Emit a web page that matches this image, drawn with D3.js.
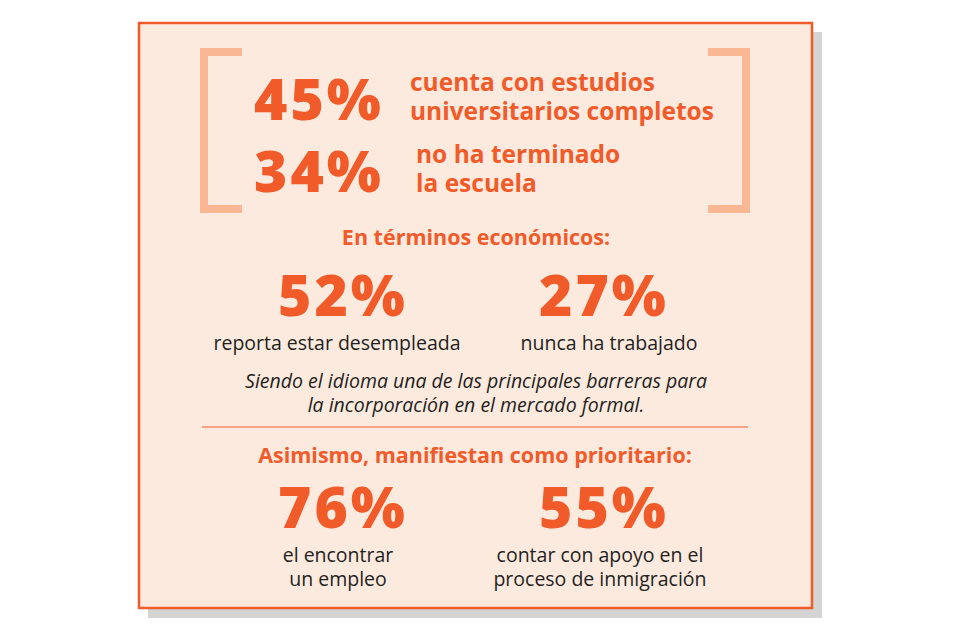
<!DOCTYPE html>
<html><head><meta charset="utf-8">
<script src="https://cdn.jsdelivr.net/npm/d3@7"></script>
<style>body{margin:0;background:#fff}svg{display:block}</style>
</head><body>
<svg id="c" width="960" height="640"></svg>
<script>
// education block
const eduValues = ["45%", "34%"];
const eduLabels = [["cuenta con estudios", "universitarios completos"], ["no ha terminado", "la escuela"]];
// economic block
const econTitle = "En términos económicos:";
const econValues = ["52%", "27%"];
const econLabels = [["reporta estar desempleada"], ["nunca ha trabajado"]];
const econNote = ["Siendo el idioma una de las principales barreras para", "la incorporación en el mercado formal."];
// priorities block
const prioTitle = "Asimismo, manifiestan como prioritario:";
const prioValues = ["76%", "55%"];
const prioLabels = [["el encontrar", "un empleo"], ["contar con apoyo en el", "proceso de inmigración"]];

const orange = "#f15a29", peach = "#fdeadf", bracket = "#f9b793", ink = "#231f20";
const font = "'Open Sans', 'Noto Sans', sans-serif";
const svg = d3.select("#c");

svg.append("rect").attr("x", 148).attr("y", 32).attr("width", 674).attr("height", 586).attr("fill", "#d4d4d4");
svg.append("rect").attr("x", 139).attr("y", 23).attr("width", 673).attr("height", 585)
  .attr("fill", peach).attr("stroke", orange).attr("stroke-width", 2.5);

// brackets
const br = [{x: 204, d: 1}, {x: 746, d: -1}];
br.forEach(b => {
  svg.append("path")
    .attr("d", `M${b.x + b.d * 38},52 H${b.x} V209 H${b.x + b.d * 38}`)
    .attr("fill", "none").attr("stroke", bracket).attr("stroke-width", 8);
});

function big(x, y, t, anchor) {
  svg.append("text").attr("x", x).attr("y", y).attr("text-anchor", anchor || "middle")
    .attr("font-family", font).attr("font-weight", 800).attr("font-size", 57)
    .attr("letter-spacing", 3).attr("fill", orange).text(t);
}
function lines(x, ys, arr, opts) {
  arr.forEach((t, i) => {
    svg.append("text").attr("x", x).attr("y", ys[i]).attr("text-anchor", opts.anchor || "middle")
      .attr("font-family", font).attr("font-weight", opts.weight || 400)
      .attr("font-style", opts.style || "normal").attr("font-size", opts.size)
      .attr("fill", opts.fill).text(t);
  });
}

const eduY = d3.scalePoint().domain([0, 1]).range([120, 192]);
eduValues.forEach((v, i) => {
  big(254, eduY(i), v, "start");
  const y0 = eduY(i) - 29;
  lines(i === 0 ? 410 : 416, [y0, y0 + 29], eduLabels[i], {anchor: "start", weight: 700, size: 24.5, fill: orange});
});

lines(476, [245], [econTitle], {weight: 700, size: 21.5, fill: orange});
const colX = d3.scalePoint().domain([0, 1]).range([343, 604]);
const labX = [337, 609];
econValues.forEach((v, i) => {
  big(colX(i), 316, v);
  lines(labX[i], [350], econLabels[i], {size: 19.5, fill: ink});
});
lines(476, [388, 412], econNote, {style: "italic", size: 19.5, fill: ink});

svg.append("line").attr("x1", 202).attr("x2", 748).attr("y1", 427).attr("y2", 427)
  .attr("stroke", orange).attr("stroke-width", 1);

lines(475, [463], [prioTitle], {weight: 700, size: 21.5, fill: orange});
const prioLabX = [338, 600];
prioValues.forEach((v, i) => {
  big(colX(i), 528, v);
  lines(prioLabX[i], [562, 586], prioLabels[i], {size: 19.5, fill: ink});
});
</script>
</body></html>
